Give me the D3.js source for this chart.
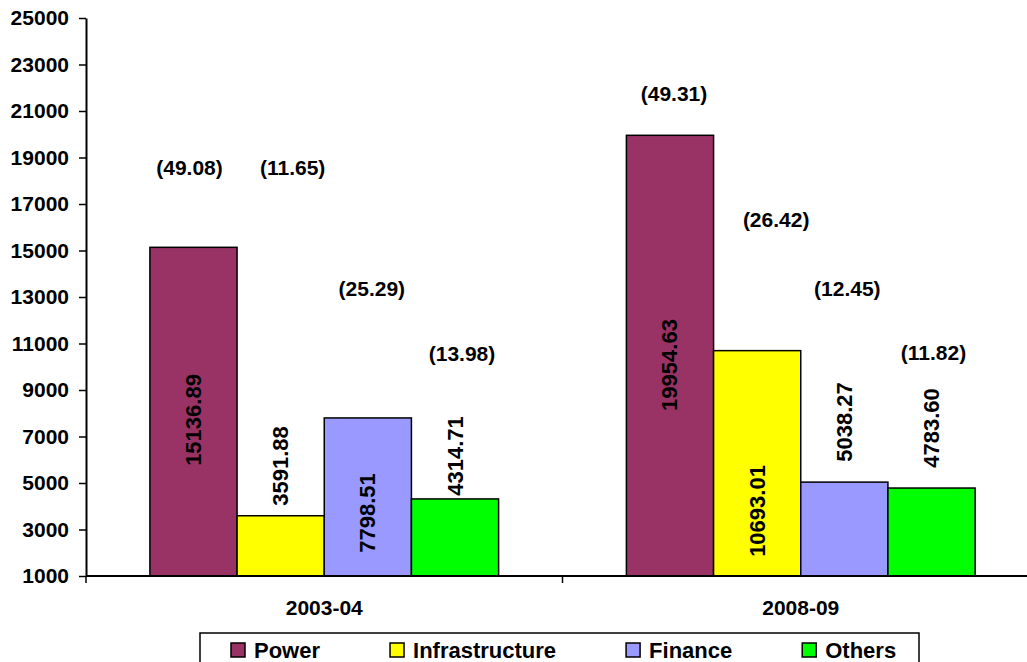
<!DOCTYPE html>
<html>
<head>
<meta charset="utf-8">
<script src="https://cdn.jsdelivr.net/npm/d3@7"></script>
<style>
  body { margin: 0; background: #fff; }
  svg { display: block; font-family: "Liberation Sans", Arial, sans-serif; font-weight: bold; }
</style>
</head>
<body>
<div id="chart"></div>
<script>
// Data
const years = ["2003-04", "2008-09"];
const sectors = ["Power", "Infrastructure", "Finance", "Others"];
const values2003 = [15136.89, 3591.88, 7798.51, 4314.71];
const values2008 = [19954.63, 10693.01, 5038.27, 4783.60];
const shares2003 = ["(49.08)", "(11.65)", "(25.29)", "(13.98)"];
const shares2008 = ["(49.31)", "(26.42)", "(12.45)", "(11.82)"];
const yTicks = [1000, 3000, 5000, 7000, 9000, 11000, 13000, 15000, 17000, 19000, 21000, 23000, 25000];

// Where the labels sit, in axis units (the labels were placed by hand in the original)
const valueLabelAt = [[7710, 5731, 3710, 6161], [10075, 3796, 7624, 7366]];
const shareLabelAt = [[18591, 18591, 13387, 10591], [21774, 16312, 13387, 10634]];
const shareLabelDx = [[-4, 12, 4, 7], [4, 19, 3, 2]];

const colors = { Power: "#993366", Infrastructure: "#FFFF00", Finance: "#9999FF", Others: "#00FF00" };

const rows = years.map((yr, i) => ({
  year: yr,
  values: i === 0 ? values2003 : values2008,
  shares: i === 0 ? shares2003 : shares2008
}));

const width = 1027, height = 662;

const svg = d3.select("#chart")
  .append("svg")
  .attr("width", width)
  .attr("height", height);

// Scales
const x0 = d3.scaleBand()
  .domain(years)
  .range([86, 1039])
  .paddingInner(0)
  .paddingOuter(0);

const x1 = d3.scaleBand()
  .domain(sectors)
  .range([0, x0.bandwidth()])
  .paddingInner(0)
  .paddingOuter(0.733);

const y = d3.scaleLinear()
  .domain([1000, 25000])
  .range([576, 18]);

// y axis
const yAxis = svg.append("g")
  .attr("transform", "translate(86,0)")
  .call(d3.axisLeft(y).tickValues(yTicks).tickSize(7).tickPadding(10).tickSizeOuter(0).tickFormat(d3.format("d")));
yAxis.select(".domain").attr("stroke", "#000").attr("stroke-width", 2);
yAxis.selectAll(".tick line").attr("stroke", "#000").attr("stroke-width", 1.5);
yAxis.selectAll(".tick text")
  .attr("fill", "#000")
  .style("font-size", "21px")
  .style("font-weight", "bold")
  .style("font-family", "'Liberation Sans', Arial, sans-serif");

// Bars
const groups = svg.selectAll(".year")
  .data(rows)
  .enter()
  .append("g")
  .attr("class", "year")
  .attr("transform", d => `translate(${x0(d.year)},0)`);

groups.selectAll("rect")
  .data(d => d.values.map((v, k) => ({ sector: sectors[k], value: v })))
  .enter()
  .append("rect")
  .attr("x", d => x1(d.sector))
  .attr("y", d => y(d.value))
  .attr("width", x1.bandwidth())
  .attr("height", d => y(1000) - y(d.value))
  .attr("fill", d => colors[d.sector])
  .attr("stroke", "#000")
  .attr("stroke-width", 1.5);

// x axis (drawn over the bar bottoms)
const xAxisG = svg.append("g");
xAxisG.append("line")
  .attr("x1", 86).attr("x2", 1039)
  .attr("y1", y(1000)).attr("y2", y(1000))
  .attr("stroke", "#000").attr("stroke-width", 2);
xAxisG.selectAll(".xtick")
  .data([86, x0(years[1]), x0(years[1]) + x0.bandwidth()])
  .enter()
  .append("line")
  .attr("x1", d => d).attr("x2", d => d)
  .attr("y1", y(1000)).attr("y2", y(1000) + 7)
  .attr("stroke", "#000").attr("stroke-width", 1.5);
xAxisG.selectAll(".xlabel")
  .data(years)
  .enter()
  .append("text")
  .attr("x", d => x0(d) + x0.bandwidth() / 2)
  .attr("y", 615)
  .attr("text-anchor", "middle")
  .style("font-size", "21px")
  .text(d => d);

// Value labels (rotated)
groups.selectAll(".val")
  .data((d, i) => d.values.map((v, k) => ({ sector: sectors[k], value: v, at: valueLabelAt[i][k] })))
  .enter()
  .append("text")
  .attr("class", "val")
  .attr("transform", d => `translate(${x1(d.sector) + x1.bandwidth() / 2},${y(d.at)}) rotate(-90)`)
  .attr("text-anchor", "middle")
  .attr("dominant-baseline", "central")
  .style("font-size", "22px")
  .text(d => d.value.toFixed(2));

// Share labels
groups.selectAll(".share")
  .data((d, i) => d.shares.map((s, k) => ({ sector: sectors[k], share: s, at: shareLabelAt[i][k], dx: shareLabelDx[i][k] })))
  .enter()
  .append("text")
  .attr("class", "share")
  .attr("x", d => x1(d.sector) + x1.bandwidth() / 2 + d.dx)
  .attr("y", d => y(d.at))
  .attr("text-anchor", "middle")
  .attr("dominant-baseline", "central")
  .style("font-size", "21px")
  .text(d => d.share);

// Legend
const legend = svg.append("g");
legend.append("rect")
  .attr("x", 200).attr("y", 633)
  .attr("width", 719).attr("height", 60)
  .attr("fill", "#fff")
  .attr("stroke", "#000")
  .attr("stroke-width", 1.5);

let lx = 231;
sectors.forEach(s => {
  legend.append("rect")
    .attr("x", lx).attr("y", 643)
    .attr("width", 14).attr("height", 14)
    .attr("fill", colors[s])
    .attr("stroke", "#000")
    .attr("stroke-width", 1.5);
  const t = legend.append("text")
    .attr("x", lx + 23)
    .attr("y", 658)
    .style("font-size", "22px")
    .text(s);
  lx = lx + 23 + t.node().getComputedTextLength() + 70;
});
</script>
</body>
</html>
